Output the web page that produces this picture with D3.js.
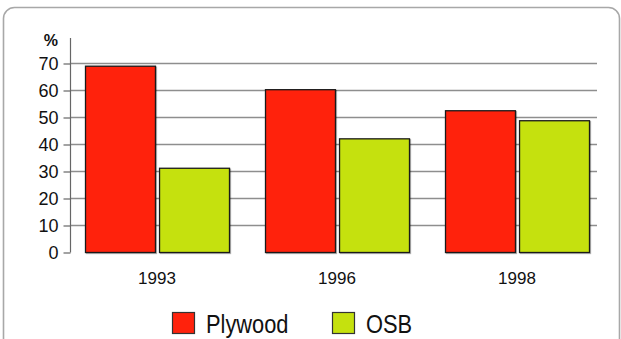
<!DOCTYPE html>
<html>
<head>
<meta charset="utf-8">
<script src="https://cdn.jsdelivr.net/npm/d3@7"></script>
<style>
  html, body { margin: 0; padding: 0; background: #fff; }
  svg { display: block; }
  text { font-family: "Liberation Sans", Arial, sans-serif; fill: #111; }
</style>
</head>
<body>
<script>
// Share of panel products (%)
const years = ["1993", "1996", "1998"];
const seriesNames = ["Plywood", "OSB"];
const plywood = [69, 60.3, 52.5];
const osb = [31.2, 42.1, 48.8];
const yTicks = [0, 10, 20, 30, 40, 50, 60, 70];
const colors = ["#ff220c", "#c5e10e"];

const W = 621, H = 339;
const svg = d3.select("body").append("svg").attr("width", W).attr("height", H);

// Rounded frame, open at the right and bottom
svg.append("rect")
  .attr("x", 3.5).attr("y", 7.5)
  .attr("width", 616).attr("height", 360)
  .attr("rx", 11).attr("ry", 11)
  .attr("fill", "none").attr("stroke", "#a8a8a8").attr("stroke-width", 1.6);

const x0 = d3.scaleBand().domain(years).range([67, 607]).paddingInner(0.2).paddingOuter(0.1);
const x1 = d3.scaleBand().domain(seriesNames).range([0, x0.bandwidth()]).paddingInner(0.055);
const y = d3.scaleLinear().domain([0, 70]).range([252, 63]);

// Gridlines
svg.append("g").selectAll("line").data(yTicks.filter(d => d > 0)).join("line")
  .attr("x1", 70).attr("x2", 597)
  .attr("y1", d => y(d) + 0.5).attr("y2", d => y(d) + 0.5)
  .attr("stroke", "#8e8e8e").attr("stroke-width", 1.4);

// Y axis
const yAxis = d3.axisLeft(y).tickValues(yTicks).tickSize(7).tickPadding(5).tickSizeOuter(0);
const gy = svg.append("g").attr("transform", "translate(70.5,0.5)").call(yAxis);
gy.select(".domain").remove();
gy.selectAll(".tick line").attr("stroke", "#666").attr("stroke-width", 1.2);
gy.selectAll(".tick text").attr("font-size", 18).attr("dy", "0.35em").attr("fill", "#111");
svg.append("line").attr("x1", 70.5).attr("x2", 70.5).attr("y1", 38).attr("y2", 252.5)
  .attr("stroke", "#666").attr("stroke-width", 1.2);

svg.append("text").attr("x", 58).attr("y", 45.5).attr("text-anchor", "end")
  .attr("font-size", 16).attr("font-weight", "bold").text("%");

// Bars
const data = years.map((yr, i) => ({ year: yr, values: [plywood[i], osb[i]] }));
const groups = svg.append("g").selectAll("g").data(data).join("g")
  .attr("transform", d => `translate(${x0(d.year)},0)`);
groups.selectAll("rect").data(d => d.values.map((v, k) => ({ name: seriesNames[k], v, k }))).join("rect")
  .attr("x", d => x1(d.name) + 0.5)
  .attr("y", d => y(d.v) + 0.5)
  .attr("width", x1.bandwidth())
  .attr("height", d => y(0) - y(d.v))
  .attr("fill", d => colors[d.k])
  .attr("stroke", "#1a1a1a").attr("stroke-width", 1.3)
  .style("filter", "drop-shadow(1px 1px 0.6px rgba(0,0,0,0.3))");

// X labels
svg.append("g").selectAll("text").data(years).join("text")
  .attr("x", d => x0(d) + x0.bandwidth() / 2)
  .attr("y", 284)
  .attr("text-anchor", "middle")
  .attr("font-size", 17)
  .text(d => d);

// Legend (condensed lettering)
const legendX = [172, 332];
const lg = svg.append("g").selectAll("g").data(seriesNames).join("g")
  .attr("transform", (d, i) => `translate(${legendX[i]},312)`);
lg.append("rect").attr("x", 0.5).attr("y", 0.5).attr("width", 22).attr("height", 21)
  .attr("fill", (d, i) => colors[i]).attr("stroke", "#333").attr("stroke-width", 1.2);
lg.append("text")
  .attr("transform", "translate(34,21) scale(0.84,1)")
  .attr("font-size", 26)
  .text(d => d);
</script>
</body>
</html>
